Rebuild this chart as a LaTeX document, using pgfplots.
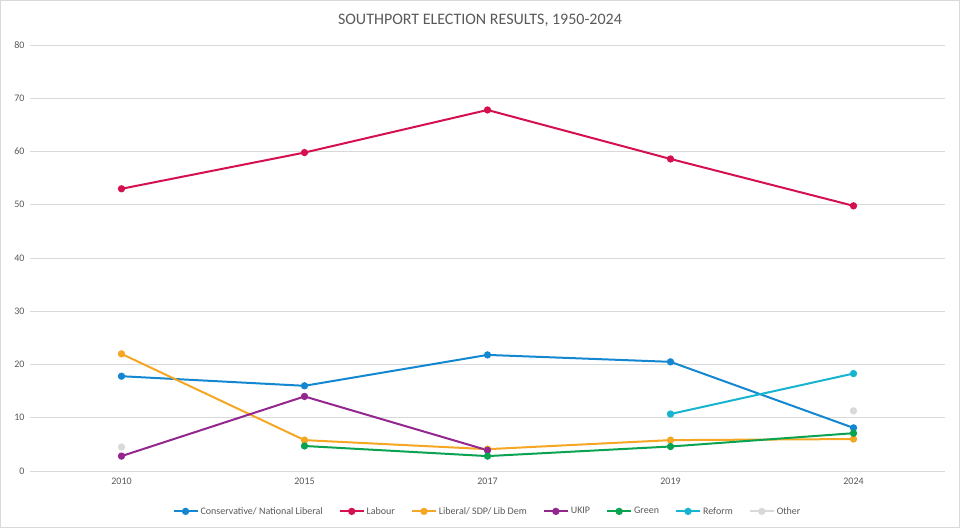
\documentclass[border=0pt]{standalone}
\usepackage{pgfplots}
\pgfplotsset{compat=1.18}
\usepackage{fontspec}
\setmainfont{Carlito}
\definecolor{con}{HTML}{1487D1}
\definecolor{lab}{HTML}{D5104F}
\definecolor{ld}{HTML}{F5A623}
\definecolor{uk}{HTML}{93278F}
\definecolor{gr}{HTML}{0AA351}
\definecolor{ref}{HTML}{17B4CF}
\definecolor{oth}{HTML}{D9D9D9}
\definecolor{txt}{HTML}{595959}
\begin{document}
\begin{tikzpicture}[x=1pt,y=1pt]
\useasboundingbox (0,0) rectangle (960,528);
\draw[oth,line width=0.8pt] (0.5,0.5) rectangle (959.5,527.5);
\node[text=txt,font=\fontsize{16}{18}\selectfont] at (480,508) {SOUTHPORT ELECTION RESULTS, 1950-2024};
\begin{axis}[at={(30pt,57pt)},anchor=south west,scale only axis,
 width=915pt,height=426pt,
 xmin=-0.5,xmax=4.5,ymin=0,ymax=80,ytick distance=10,
 xtick={0,...,4},xticklabels={2010,2015,2017,2019,2024},
 ymajorgrids,grid style={oth,line width=0.7pt},
 axis line style={draw=none},major tick length=0pt,
 tick label style={text=txt,font=\fontsize{10}{12}\selectfont},
 /pgf/number format/assume math mode=true,
 yticklabel style={xshift=-2pt},xticklabel style={yshift=-3pt},
 every axis plot/.append style={line width=2pt,mark=*,mark size=2.6pt},
 legend style={at={(0.5,-0.075)},anchor=north,draw=none,font=\fontsize{10}{12}\selectfont,text=txt,
   /tikz/every even column/.append style={column sep=14pt}},
 legend columns=-1,
 legend image code/.code={\draw[#1] (0pt,0pt) -- (24pt,0pt); \fill[#1] (12pt,0pt) circle (2.6pt);},
]
\addplot[con] coordinates {(0,17.8)(1,16.0)(2,21.8)(3,20.5)(4,8.1)};
\addlegendentry{Conservative/ National Liberal}
\addplot[lab] coordinates {(0,53.0)(1,59.8)(2,67.8)(3,58.6)(4,49.8)};
\addlegendentry{Labour}
\addplot[ld] coordinates {(0,22.0)(1,5.8)(2,4.1)(3,5.8)(4,6.0)};
\addlegendentry{Liberal/ SDP/ Lib Dem}
\addplot[uk] coordinates {(0,2.8)(1,14.0)(2,3.9)};
\addlegendentry{UKIP}
\addplot[gr] coordinates {(1,4.7)(2,2.8)(3,4.6)(4,7.1)};
\addlegendentry{Green}
\addplot[ref] coordinates {(3,10.7)(4,18.3)};
\addlegendentry{Reform}
\addplot[oth,only marks] coordinates {(0,4.5)(4,11.3)};
\addlegendentry{Other}
\end{axis}
\end{tikzpicture}
\end{document}
